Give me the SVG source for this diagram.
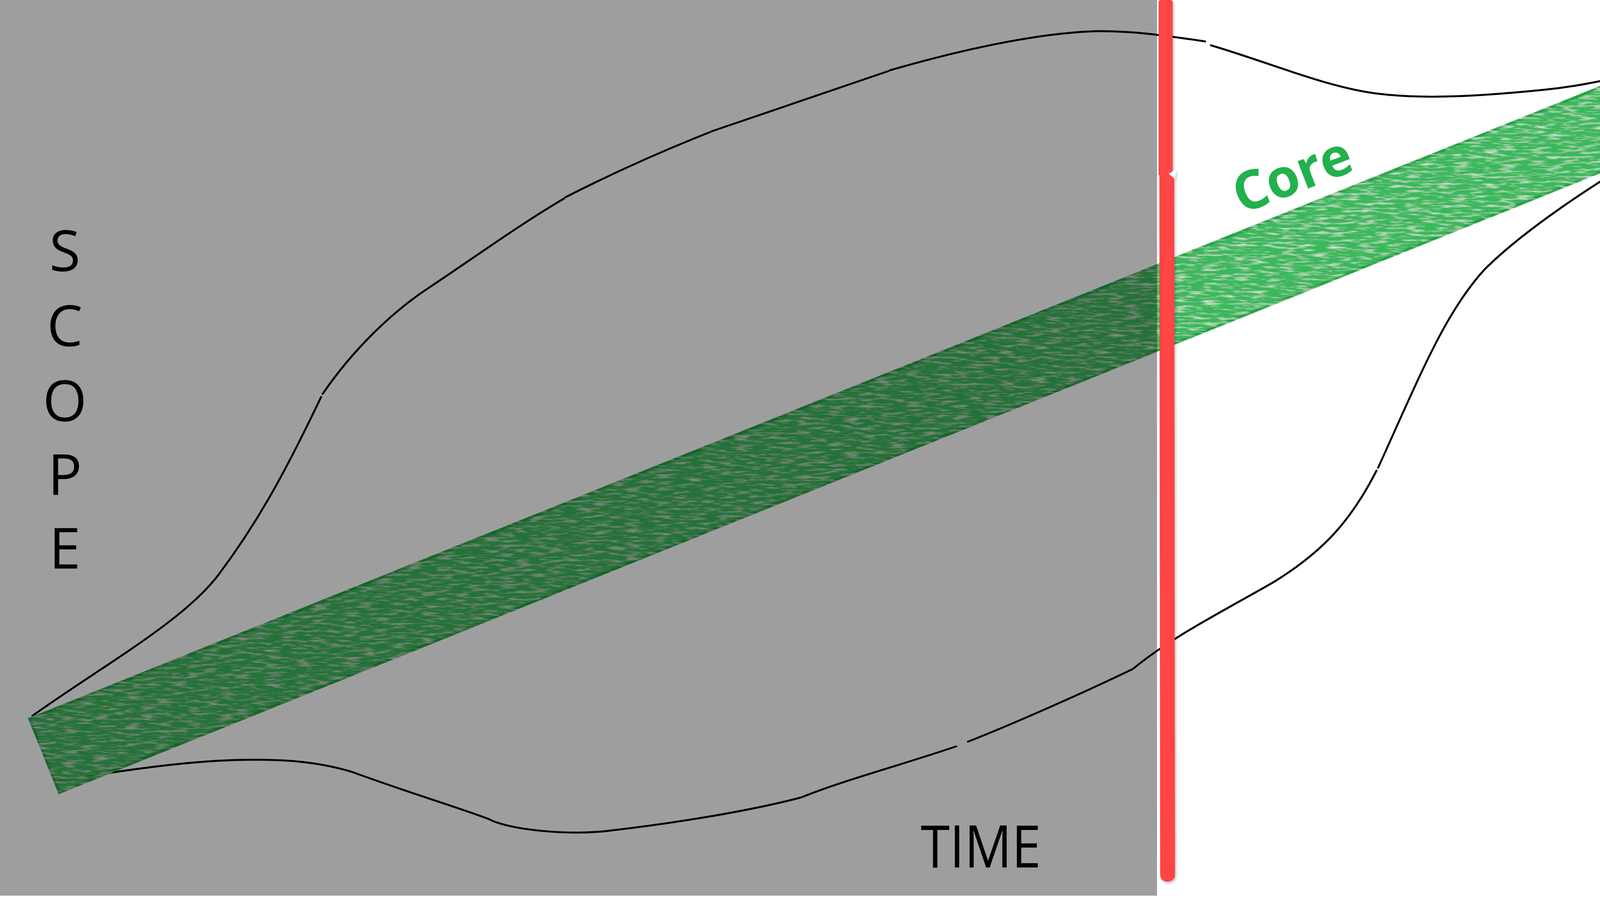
<svg xmlns="http://www.w3.org/2000/svg" width="4335" height="2316" viewBox="0 0 4335 2316">
<style>
.outline{fill:none;stroke:#000;stroke-width:5;stroke-linecap:round}
.lbl{font-family:"Open Sans","Noto Sans","Liberation Sans",sans-serif;fill:#000}
</style>
<defs>
<filter id="tex" filterUnits="userSpaceOnUse" x="0" y="150" width="4335" height="1950">
<feTurbulence type="fractalNoise" baseFrequency="0.025 0.16" numOctaves="3" seed="7" result="n"/>
<feColorMatrix in="n" type="matrix" values="0 0 0 0 1  0 0 0 0 1  0 0 0 0 1  1.6 0 0 0 -0.78" result="w"/>
<feComposite in="w" in2="SourceAlpha" operator="in" result="wc"/>
<feMerge><feMergeNode in="SourceGraphic"/><feMergeNode in="wc"/></feMerge>
</filter>
<filter id="sh" x="-50%" y="-1%" width="200%" height="102%">
<feDropShadow dx="3" dy="4" stdDeviation="3" flood-color="#000" flood-opacity="0.25"/>
</filter>
</defs>
<rect width="4335" height="2316" fill="#fff"/>
<g id="envelope">
<path class="outline" d="M83,1832 C260,1705 470,1590 560,1470 C650,1350 720,1230 822,1016"/>
<path class="outline" d="M826,1008 C900,900 1000,800 1100,735 C1220,655 1330,575 1444,508"/>
<path class="outline" d="M1447,505 Q1630,412 1818,338"/>
<path class="outline" d="M1822,336 Q2050,258 2274,182"/>
<path class="outline" d="M2278,180 C2450,130 2650,85 2800,80 C2900,78 2990,92 3085,106"/>
<path class="outline" d="M3100,116 C3250,160 3400,225 3530,240 C3650,255 3800,245 3950,230 C4050,220 4100,205 4156,197"/>
<path class="outline" d="M4228,385 C4080,470 3900,590 3800,690 C3700,800 3640,950 3528,1197"/>
<path class="outline" d="M3524,1204 C3460,1330 3390,1410 3260,1490 C3120,1570 3000,1630 2900,1712 C2780,1770 2600,1850 2478,1898"/>
<path class="outline" d="M2448,1910 C2300,1960 2150,2000 2053,2040"/>
<path class="outline" d="M2050,2041 C1900,2080 1700,2110 1550,2127 C1450,2137 1320,2125 1259,2100"/>
<path class="outline" d="M1256,2098 C1200,2075 1050,2030 900,1975 C800,1945 700,1942 600,1945 C450,1950 300,1975 150,1997"/>
</g>
<g id="core-band">
<polygon points="76,1840 4155,200 4230,386 152,2028" fill="#2cb350" fill-opacity="0.93" stroke="#21a446" stroke-width="7" stroke-linejoin="miter" filter="url(#tex)"/>
</g>
<g id="past-area">
<rect x="0" y="0" width="2962" height="2292" fill="#000" fill-opacity="0.38"/>
</g>
<g id="now-line" filter="url(#sh)">
<path d="M2966,6 Q2966,0 2972,0 L2996,0 Q3002,0 3002,6 L3002,448 L2966,448 Z" fill="#ff4545"/>
<path d="M2968,440 L3006,440 L3008,2236 Q3008,2256 2988,2256 Q2970,2256 2970,2236 Z" fill="#ff4545"/>
<polygon points="3004,437 2992,445 3008,458 3010,437" fill="#fff"/>
</g>
<g id="labels">
<text class="lbl" font-size="145" text-anchor="middle" x="166" y="694">S</text>
<text class="lbl" font-size="145" text-anchor="middle" x="166" y="886">C</text>
<text class="lbl" font-size="145" text-anchor="middle" x="166" y="1078">O</text>
<text class="lbl" font-size="145" text-anchor="middle" x="166" y="1267">P</text>
<text class="lbl" font-size="145" text-anchor="middle" x="166" y="1455">E</text>
<text class="lbl" font-size="150" x="2357" y="2220" textLength="308" lengthAdjust="spacingAndGlyphs">TIME</text>
<text font-family="Open Sans,Noto Sans,Liberation Sans,sans-serif" font-weight="700" font-size="137" fill="#22b14c" transform="translate(3178,548) rotate(-21)">Core</text>
</g>
</svg>
